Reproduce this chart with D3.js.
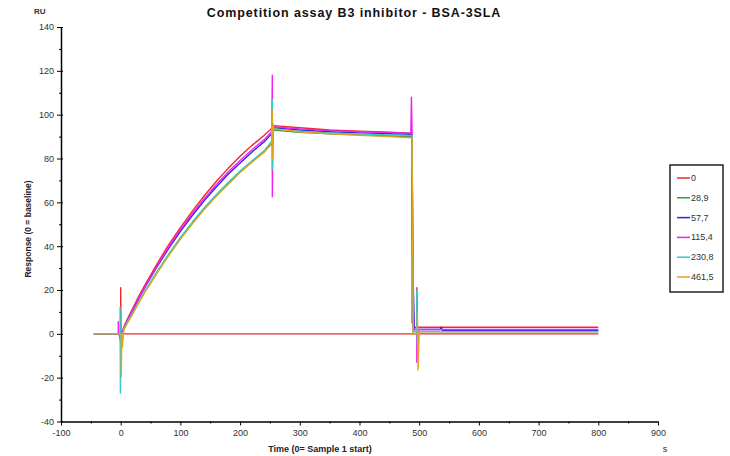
<!DOCTYPE html>
<html lang="en">

<head>
    <meta charset="UTF-8">
    <title>Competition assay B3 inhibitor - BSA-3SLA</title>
    <script src="https://d3js.org/d3.v7.min.js"></script>
    <style>
        body { margin: 0; background: #fff; }
        svg { font-family: "Liberation Sans", Arial, sans-serif; }
    </style>
</head>

<body>
    <svg id="chart" width="730" height="456"></svg>
    <script>
        // legend names (concentrations) and colours
        const seriesNames = ["0", "28,9", "57,7", "115,4", "230,8", "461,5"];
        const seriesColors = ["#f02828", "#3c9a3c", "#2424f0", "#f020f0", "#30cccc", "#e0a41c"];

        // tick values
        const xTicks = [-100, 0, 100, 200, 300, 400, 500, 600, 700, 800, 900];
        const yTicks = [-40, -20, 0, 20, 40, 60, 80, 100, 120, 140];

        // association phase sample times (s)
        const assocTimes = [5, 10, 20, 30, 40, 60, 80, 100, 120, 140, 160, 180, 200, 220, 240, 252];

        // association responses per series
        const assocRed = [3, 6, 11.5, 17, 22, 31.5, 40.5, 48.5, 56, 63, 69.5, 75.5, 81, 86, 90.5, 93.5];
        const assocGreen = [2, 4.5, 9.3, 14.2, 19, 27.6, 35.8, 43.5, 50.5, 57, 63, 68.5, 73.8, 78.5, 83, 86.5];
        const assocBlue = [2.6, 5.4, 10.7, 16, 21, 30.2, 38.8, 46.8, 54, 60.8, 67, 72.8, 78, 83, 87.5, 91];
        const assocMagenta = [2.8, 5.6, 11, 16.3, 21.3, 30.7, 39.4, 47.5, 54.9, 61.7, 68, 73.8, 79.1, 84, 88.5, 92];
        const assocCyan = [2.2, 4.8, 9.6, 14.5, 19.3, 28, 36.2, 44, 51, 57.5, 63.5, 69, 74.3, 79, 83.5, 87.5];
        const assocOrange = [1.8, 4.3, 9.1, 14, 18.8, 27.4, 35.6, 43.2, 50.2, 56.8, 62.8, 68.3, 73.6, 78.4, 82.8, 87];

        // injection start: [time, response]
        const startRed = [[-45, 0], [0, 0], [0, 21], [0.5, 0], [1, -3]];
        const startGreen = [[-45, 0], [0, 0], [2, -4]];
        const startBlue = [[-45, 0], [0, 0], [2, -3]];
        const startMagenta = [[-45, 0], [-4, 0], [-4, 5.5], [-3, 0], [1, -5]];
        const startCyan = [[-45, 0], [-1, 0], [-1, 12], [-0.5, -27], [0, 0], [2, -4]];
        const startOrange = [[-45, 0], [1, 0], [1, -19.6], [2, 0], [3, -6]];

        // spike at end of association (~254 s)
        const spikeRed = [[253, 94], [256, 95]];
        const spikeGreen = [[253, 86.5], [256, 93]];
        const spikeBlue = [[253, 91], [256, 94]];
        const spikeMagenta = [[253, 92], [254, 118], [254, 62.5], [255, 95], [256, 94.5]];
        const spikeCyan = [[253, 87.5], [254, 107], [254, 75], [256, 93.5]];
        const spikeOrange = [[253, 87], [254, 102], [254, 79.5], [255, 96], [257, 93.5]];

        // dissociation sample times (s)
        const dissTimes = [300, 350, 400, 450, 486];
        const dissRed = [94, 93, 92.5, 92, 91.5];
        const dissGreen = [92, 91.3, 90.8, 90.3, 90];
        const dissBlue = [93, 92.2, 91.7, 91.3, 91];
        const dissMagenta = [93.5, 92.7, 92.2, 91.8, 91.5];
        const dissCyan = [92.5, 91.7, 91.2, 90.8, 90.5];
        const dissOrange = [92.2, 91.3, 90.6, 90, 89.5];

        // end of injection (~488 s) and wash: [time, response]
        const endRed = [[488, 91.5], [490, 3], [496, 3], [496, 21], [497, 3], [800, 3]];
        const endGreen = [[488, 90], [490, 1], [800, 1]];
        const endBlue = [[488, 91], [489, 30], [490, 23], [492, 2], [535, 2], [537, 3], [539, 1.5], [800, 1.5]];
        const endMagenta = [[486, 91.5], [487, 108], [488, 92], [488, 5], [489, 21], [491, 2], [496, 2], [496, -13], [498, 2], [800, 2]];
        const endCyan = [[488, 90.5], [490, 1], [496, 1], [496, 20], [497, -5], [500, 1], [800, 1]];
        const endOrange = [[488, 89.5], [490, 0], [497, 0], [497, 9.5], [498, -16.5], [500, 1], [800, 1]];

        // flat red reference trace at 0
        const zeroLine = [[0, 0], [800, 0]];

        // join the phases of one series into [time, response] pairs
        function buildSeries(start, assoc, spike, diss, end) {
            const pts = start.slice();
            assocTimes.forEach((t, i) => pts.push([t, assoc[i]]));
            spike.forEach(p => pts.push(p));
            dissTimes.forEach((t, i) => pts.push([t, diss[i]]));
            end.forEach(p => pts.push(p));
            return pts;
        }

        const series = [
            buildSeries(startRed, assocRed, spikeRed, dissRed, endRed),
            buildSeries(startGreen, assocGreen, spikeGreen, dissGreen, endGreen),
            buildSeries(startBlue, assocBlue, spikeBlue, dissBlue, endBlue),
            buildSeries(startMagenta, assocMagenta, spikeMagenta, dissMagenta, endMagenta),
            buildSeries(startCyan, assocCyan, spikeCyan, dissCyan, endCyan),
            buildSeries(startOrange, assocOrange, spikeOrange, dissOrange, endOrange)
        ];

        const svg = d3.select("#chart");

        // scales
        const x = d3.scaleLinear().domain([-100, 900]).range([61, 658]);
        const y = d3.scaleLinear().domain([-40, 140]).range([421.5, 27]);

        const line = d3.line()
            .x(d => x(d[0]))
            .y(d => y(d[1]));

        // plain hyphen for negative labels, like the original software
        const plainFormat = d => String(d);

        // title
        svg.append("text")
            .attr("x", 354)
            .attr("y", 17)
            .attr("text-anchor", "middle")
            .style("font-size", "12.5px")
            .style("font-weight", "bold")
            .style("letter-spacing", "0.9px")
            .style("fill", "#111")
            .text("Competition assay B3 inhibitor - BSA-3SLA");

        // unit label top-left
        svg.append("text")
            .attr("x", 34)
            .attr("y", 14)
            .style("font-size", "8px")
            .style("font-weight", "bold")
            .style("fill", "#333")
            .text("RU");

        // curves
        const plot = svg.append("g");

        plot.append("path")
            .datum(zeroLine)
            .attr("d", line)
            .attr("fill", "none")
            .attr("stroke", seriesColors[0])
            .attr("stroke-width", 1.4);

        plot.selectAll("path.series")
            .data(series)
            .enter().append("path")
            .attr("class", "series")
            .attr("d", line)
            .attr("fill", "none")
            .attr("stroke", (d, i) => seriesColors[i])
            .attr("stroke-width", 1.4)
            .attr("stroke-linejoin", "round");

        // y axis: major ticks with labels, minor ticks every 10
        const yMinor = d3.range(-40, 141, 10).filter(v => v % 20 !== 0);
        svg.append("g")
            .attr("transform", `translate(${x(-100)},0)`)
            .call(d3.axisLeft(y).tickValues(yMinor).tickSize(2).tickFormat(""))
            .call(g => g.select(".domain").remove());

        const yAxis = svg.append("g")
            .attr("transform", `translate(${x(-100)},0)`)
            .call(d3.axisLeft(y).tickValues(yTicks).tickFormat(plainFormat)
                .tickSizeInner(4).tickSizeOuter(0).tickPadding(3));
        yAxis.select(".domain").attr("stroke-width", 1.5);
        yAxis.selectAll(".tick line").attr("x2", -4).attr("x1", 2);

        // x axis
        const xMinor = d3.range(-50, 900, 100);
        svg.append("g")
            .attr("transform", `translate(0,${y(-40)})`)
            .call(d3.axisBottom(x).tickValues(xMinor).tickSize(2).tickFormat(""))
            .call(g => g.select(".domain").remove());

        const xAxis = svg.append("g")
            .attr("transform", `translate(0,${y(-40)})`)
            .call(d3.axisBottom(x).tickValues(xTicks).tickFormat(plainFormat)
                .tickSizeInner(4).tickSizeOuter(0).tickPadding(4));
        xAxis.select(".domain").attr("stroke-width", 1.5);

        // tick label font
        svg.selectAll(".tick text")
            .style("font-size", "9px")
            .style("fill", "#333")
            .style("font-family", "'Liberation Sans', Arial, sans-serif");

        // axis titles
        svg.append("text")
            .attr("x", 320)
            .attr("y", 452)
            .attr("text-anchor", "middle")
            .style("font-size", "9px")
            .style("font-weight", "bold")
            .style("fill", "#222")
            .text("Time (0= Sample 1 start)");

        svg.append("text")
            .attr("x", 665)
            .attr("y", 452)
            .attr("text-anchor", "middle")
            .style("font-size", "9px")
            .style("fill", "#222")
            .text("s");

        svg.append("text")
            .attr("transform", "translate(31,229) rotate(-90)")
            .attr("text-anchor", "middle")
            .style("font-size", "8.5px")
            .style("font-weight", "bold")
            .style("fill", "#222")
            .text("Response (0 = baseline)");

        // legend box
        const legend = svg.append("g").attr("transform", "translate(670,165)");
        legend.append("rect")
            .attr("width", 53)
            .attr("height", 127)
            .attr("fill", "#fff")
            .attr("stroke", "#222")
            .attr("stroke-width", 1.5);

        const items = legend.selectAll("g.item")
            .data(seriesNames)
            .enter().append("g")
            .attr("class", "item")
            .attr("transform", (d, i) => `translate(0,${13 + i * 19.8})`);

        items.append("line")
            .attr("x1", 7)
            .attr("x2", 20)
            .attr("stroke", (d, i) => seriesColors[i])
            .attr("stroke-width", 1.5);

        items.append("text")
            .attr("x", 21)
            .attr("y", 3)
            .style("font-size", "9px")
            .style("fill", "#333")
            .text(d => d);
    </script>
</body>

</html>
